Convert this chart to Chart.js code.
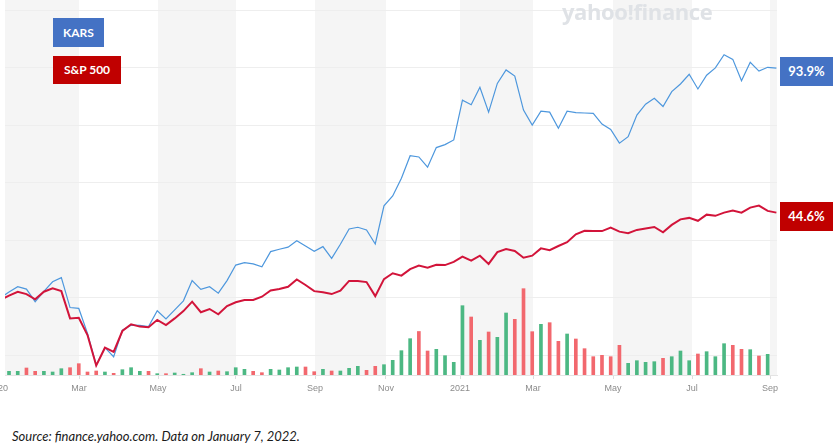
<!DOCTYPE html>
<html>
<head>
<meta charset="utf-8">
<script src="https://cdn.jsdelivr.net/npm/chart.js@4.4.1/dist/chart.umd.min.js"></script>
<style>
  html, body { margin: 0; padding: 0; background: #ffffff; }
  #wrap { position: relative; width: 833px; height: 445px; overflow: hidden; }
  #chartBox { position: absolute; left: 0; top: 0; width: 833px; height: 400px; }
  .tag { position: absolute; color: #ffffff; font: bold 12px Lato, 'Liberation Sans', sans-serif; text-align: center; }
  #watermark { position: absolute; left: 562px; top: -4px; color: #dfe2e6; font: bold 22px 'Open Sans', sans-serif; letter-spacing: -0.4px; }
  #source { position: absolute; left: 12px; top: 428px; color: #1a1a1a; font: italic 13px Lato, sans-serif; }
</style>
</head>
<body>
<div id="wrap">
  <div id="chartBox"><canvas id="priceChart"></canvas></div>
  <div id="watermark">yahoo!finance</div>
  <div class="tag" style="left:53px;top:18px;width:51px;height:29px;line-height:29px;background:#4472c4;">KARS</div>
  <div class="tag" style="left:53px;top:56px;width:68px;height:28px;line-height:28px;background:#c00000;">S&amp;P 500</div>
  <div class="tag" id="tagKars" style="left:780px;width:53px;height:29px;line-height:29px;background:#4472c4;font-size:13px;">93.9%</div>
  <div class="tag" id="tagSpx" style="left:780px;width:53px;height:29px;line-height:29px;background:#c00000;font-size:13px;">44.6%</div>
  <div id="source">Source: finance.yahoo.com. Data on January 7, 2022.</div>
</div>
<script>
// Semanas (índice 0 = primera semana de enero 2020), marcas del eje x
const tickWeeks = [-1.26, 8.03, 17.09, 26.03, 35.09, 43.23, 51.72, 60.09, 69.27, 78.33, 87.27];
const tickLabels = ['2020', 'Mar', 'May', 'Jul', 'Sep', 'Nov', '2021', 'Mar', 'May', 'Jul', 'Sep'];

// Líneas de la cuadrícula (en % de variación)
const gridValues = [-4.3, 15.5, 35.0, 54.8, 74.2, 94.0, 113.75];

// Variación % semanal, empieza en la semana -1
const karsPct = [
    15.5, 17.5, 19.3, 18.5, 14.2, 17.7, 21.0, 22.4, 12.2, 11.9,
    3.4, -7.4, -1.5, -4.6, 4.5, 6.2, 6.1, 5.7, 11.1, 8.3,
    11.4, 14.5, 21.4, 18.4, 19.3, 17.1, 21.4, 26.7, 27.5, 27.1,
    26.1, 31.3, 32.1, 32.8, 35.0, 33.2, 31.4, 33.0, 29.0, 33.8,
    39.0, 39.6, 38.7, 33.9, 46.9, 50.3, 56.3, 64.0, 63.6, 60.1,
    66.8, 67.8, 69.4, 83.0, 81.4, 87.4, 78.9, 88.7, 93.3, 91.2,
    79.6, 74.5, 79.2, 78.9, 73.4, 79.2, 78.7, 78.6, 78.5, 74.8,
    73.0, 68.3, 70.5, 77.9, 81.6, 83.6, 80.8, 85.9, 88.5, 91.8,
    86.8, 91.5, 94.0, 98.5, 96.9, 89.6, 95.9, 92.9, 94.2, 93.9
];
const spxPct = [
    14.8, 16.3, 17.6, 16.8, 15.0, 17.6, 18.8, 17.8, 8.5, 8.7,
    2.8, -7.6, -1.5, -2.9, 4.2, 6.5, 5.7, 5.5, 8.0, 6.2,
    8.5, 11.0, 14.2, 10.6, 11.7, 9.9, 12.7, 14.0, 14.8, 14.8,
    15.9, 18.0, 18.5, 19.3, 21.8, 19.9, 17.8, 17.4, 16.8, 18.0,
    21.3, 21.3, 20.9, 16.1, 21.9, 23.9, 23.1, 25.3, 26.5, 25.8,
    26.8, 26.7, 27.8, 29.6, 28.2, 29.9, 27.1, 31.1, 32.2, 31.5,
    29.2, 29.9, 32.4, 31.8, 33.2, 34.5, 37.2, 38.4, 38.3, 38.3,
    39.5, 38.1, 37.6, 38.7, 39.2, 39.7, 37.9, 40.4, 42.3, 42.8,
    41.8, 43.9, 43.5, 44.6, 45.3, 44.6, 46.3, 47.0, 45.2, 44.6
];

// Volumen semanal de KARS (miles), empieza en la semana 0
const karsVolume = [
    92, 92, 175, 92, 92, 75, 158, 183, 283, 75,
    100, 75, 42, 133, 183, 92, 92, 33, 33, 50,
    18, 58, 158, 75, 100, 83, 183, 142, 92, 58,
    142, 125, 183, 200, 200, 83, 142, 100, 100, 167,
    217, 117, 217, 258, 367, 608, 908, 1088, 600, 642,
    483, 317, 1733, 1450, 867, 1075, 942, 1550, 1392, 2158,
    1083, 1267, 1308, 842, 1025, 900, 658, 458, 492, 458,
    742, 292, 358, 317, 333, 417, 458, 600, 358, 525,
    583, 458, 783, 742, 642, 633, 475, 517
];
// Semana alcista (g) o bajista (r)
const volumeDir = [
    'g', 'g', 'r', 'r', 'g', 'g', 'g', 'r', 'r', 'r',
    'r', 'g', 'r', 'g', 'g', 'g', 'r', 'g', 'r', 'g',
    'g', 'g', 'r', 'g', 'r', 'g', 'g', 'g', 'r', 'r',
    'g', 'g', 'g', 'g', 'r', 'r', 'g', 'r', 'g', 'g',
    'g', 'r', 'r', 'g', 'g', 'g', 'g', 'r', 'r', 'g',
    'g', 'g', 'g', 'r', 'g', 'r', 'g', 'g', 'r', 'r',
    'r', 'g', 'r', 'r', 'g', 'r', 'r', 'r', 'r', 'r',
    'r', 'g', 'g', 'g', 'g', 'r', 'g', 'g', 'g', 'r',
    'g', 'g', 'g', 'r', 'r', 'g', 'r', 'g'
];

const colors = {
    kars: '#4d97dd',
    spx: '#d2143a',
    up: '#4cb883',
    down: '#f2686e',
    band: '#f5f5f5',
    grid: '#eeeeee'
};

// Franjas grises alternas entre meses
const bandPlugin = {
    id: 'bands',
    beforeDraw(chart) {
        const { ctx, chartArea, scales } = chart;
        ctx.save();
        ctx.fillStyle = colors.band;
        for (let i = 0; i < tickWeeks.length; i += 2) {
            let x0 = scales.x.getPixelForValue(tickWeeks[i]);
            let x1 = i + 1 < tickWeeks.length ? scales.x.getPixelForValue(tickWeeks[i + 1]) : chartArea.right;
            x0 = Math.max(x0, chartArea.left);
            x1 = Math.min(x1, chartArea.right);
            if (x1 > x0) ctx.fillRect(x0, 0, x1 - x0, chartArea.bottom);
        }
        ctx.restore();
    },
    afterRender(chart) {
        // Colocar las etiquetas de valor final junto al final de cada línea
        const y = chart.scales.y;
        document.getElementById('tagKars').style.top = (y.getPixelForValue(karsPct[karsPct.length - 1]) - 11) + 'px';
        document.getElementById('tagSpx').style.top = (y.getPixelForValue(spxPct[spxPct.length - 1]) - 11) + 'px';
    }
};

const ctx = document.getElementById('priceChart');
new Chart(ctx, {
    data: {
        datasets: [
            {
                type: 'line',
                label: 'S&P 500',
                data: spxPct.map((v, i) => ({ x: i - 1, y: v })),
                borderColor: colors.spx,
                borderWidth: 2,
                pointRadius: 0,
                tension: 0,
                yAxisID: 'y',
                order: 0
            },
            {
                type: 'line',
                label: 'KARS',
                data: karsPct.map((v, i) => ({ x: i - 1, y: v })),
                borderColor: colors.kars,
                borderWidth: 1.2,
                pointRadius: 0,
                tension: 0,
                yAxisID: 'y',
                order: 1
            },
            {
                type: 'bar',
                label: 'Volume',
                data: karsVolume.map((v, i) => ({ x: i, y: v })),
                backgroundColor: volumeDir.map(d => d === 'g' ? colors.up : colors.down),
                barThickness: 3,
                yAxisID: 'vol',
                order: 2
            }
        ]
    },
    options: {
        responsive: true,
        maintainAspectRatio: false,
        animation: false,
        layout: { padding: { left: 5, right: 56, top: 10, bottom: 0 } },
        plugins: {
            legend: { display: false },
            tooltip: { enabled: false }
        },
        scales: {
            x: {
                type: 'linear',
                offset: false,
                min: -0.46,
                max: 88.07,
                afterBuildTicks: s => { s.ticks = tickWeeks.map(v => ({ value: v })); },
                afterFit: s => { s.height = 25; s.paddingLeft = 0; s.paddingRight = 0; },
                ticks: {
                    autoSkip: false,
                    maxRotation: 0,
                    minRotation: 0,
                    padding: 4,
                    color: '#8c8c8c',
                    font: { size: 9, family: 'Liberation Sans' },
                    callback: (v, i) => tickLabels[i]
                },
                grid: { offset: false, drawOnChartArea: false, drawTicks: true, tickLength: 4, color: '#dddddd' },
                border: { color: '#e4e4e4' }
            },
            y: {
                position: 'left',
                min: -10.82,
                max: 113.75,
                afterBuildTicks: s => { s.ticks = gridValues.map(v => ({ value: v })); },
                afterFit: s => { s.width = 0; },
                ticks: { display: false },
                grid: { color: colors.grid, drawTicks: false },
                border: { display: false }
            },
            vol: {
                display: false,
                min: 0,
                max: 9125
            }
        }
    },
    plugins: [bandPlugin]
});
</script>
</body>
</html>
